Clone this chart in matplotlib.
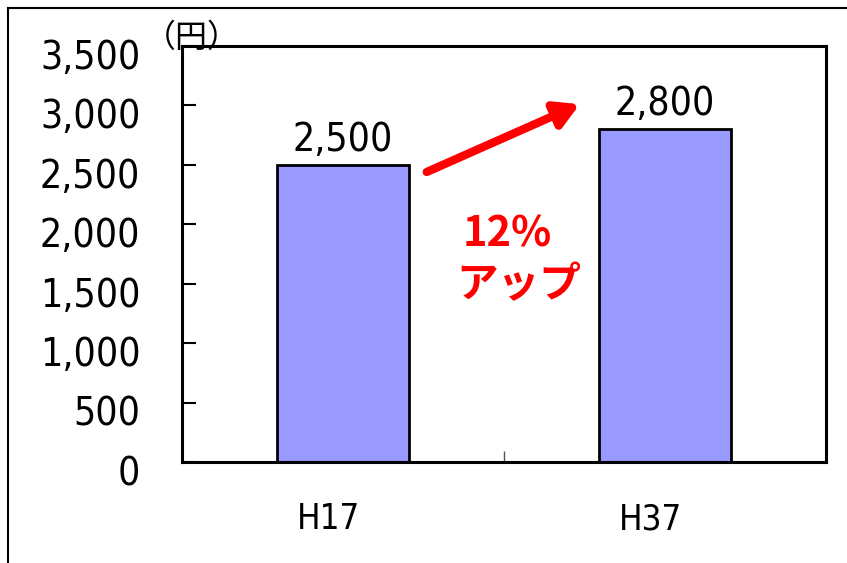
import matplotlib
matplotlib.use("Agg")
import matplotlib.pyplot as plt
from matplotlib.lines import Line2D
from matplotlib.ticker import FixedLocator, FuncFormatter
import matplotlib.transforms as mtransforms

# Data
categories = ["H17", "H37"]
values = [2500, 2800]
y_ticks = [0, 500, 1000, 1500, 2000, 2500, 3000, 3500]
unit_label = "（円）"
growth_pct = "12%"
growth_word = "アップ"

num_family = "DejaVu Sans"
num_stretch = "condensed"
jp_font = ["Noto Sans CJK JP", "DejaVu Sans"]

W, H = 847, 563
fig = plt.figure(figsize=(W / 100, H / 100), dpi=100)
ax = fig.add_axes([182 / W, 1 - 462 / H, (826 - 182) / W, (462 - 46) / H])

x = list(range(len(categories)))
ax.bar(x, values, width=0.41, color="#9999FF", edgecolor="black", linewidth=2, zorder=2)

ax.set_xlim(-0.5, len(categories) - 0.5)
ax.set_ylim(0, 3500)

for s in ax.spines.values():
    s.set_linewidth(2.2)
    s.set_color("black")

# y axis
ax.yaxis.set_major_locator(FixedLocator(y_ticks))
ax.yaxis.set_major_formatter(FuncFormatter(lambda v, p: f"{int(v):,}"))
ax.tick_params(axis="y", direction="in", length=10, width=1.5, pad=30, labelsize=28)
shift_down = mtransforms.ScaledTranslation(0, -8 / 100, fig.dpi_scale_trans)
for lbl in ax.get_yticklabels():
    lbl.set_fontfamily(num_family)
    lbl.set_fontstretch(num_stretch)
    lbl.set_transform(lbl.get_transform() + shift_down)

# x axis
ax.set_xticks(x)
ax.set_xticklabels(categories, fontfamily=num_family, fontstretch=num_stretch, fontsize=25)
ax.tick_params(axis="x", which="major", length=0, pad=29)
shift_left = mtransforms.ScaledTranslation(-15 / 100, 0, fig.dpi_scale_trans)
for lbl in ax.get_xticklabels():
    lbl.set_transform(lbl.get_transform() + shift_left)
ax.set_xticks([0.5], minor=True)
ax.tick_params(axis="x", which="minor", direction="in", length=8, width=1, color="#555555")

# value labels
for xi, v in zip(x, values):
    ax.text(xi, v + 50, f"{v:,}", ha="center", va="bottom",
            fontfamily=num_family, fontstretch=num_stretch, fontsize=28)

# unit label
fig.text(144 / W, 1 - 38 / H, unit_label, ha="left", va="center",
         fontfamily=jp_font, fontsize=23)

# growth arrow and note
ax.annotate("", xy=(0.735, 3010), xytext=(0.26, 2440),
            arrowprops=dict(arrowstyle="-|>,head_length=1.4,head_width=0.8",
                            color="red", lw=6, shrinkA=0, shrinkB=0))
ax.text(0.51, 1918, growth_pct, ha="center", va="center", color="red",
        fontfamily=jp_font, fontsize=30, fontweight="bold")
ax.text(0.547, 1489, growth_word, ha="center", va="center", color="red",
        fontfamily=jp_font, fontsize=30, fontweight="bold")

# outer frame (top and left edges)
fig.add_artist(Line2D([8 / W, 1], [1 - 8 / H, 1 - 8 / H], transform=fig.transFigure,
                      color="black", lw=1.5))
fig.add_artist(Line2D([8 / W, 8 / W], [0, 1 - 8 / H], transform=fig.transFigure,
                      color="black", lw=1.5))

fig.savefig("out.png", dpi=100)
